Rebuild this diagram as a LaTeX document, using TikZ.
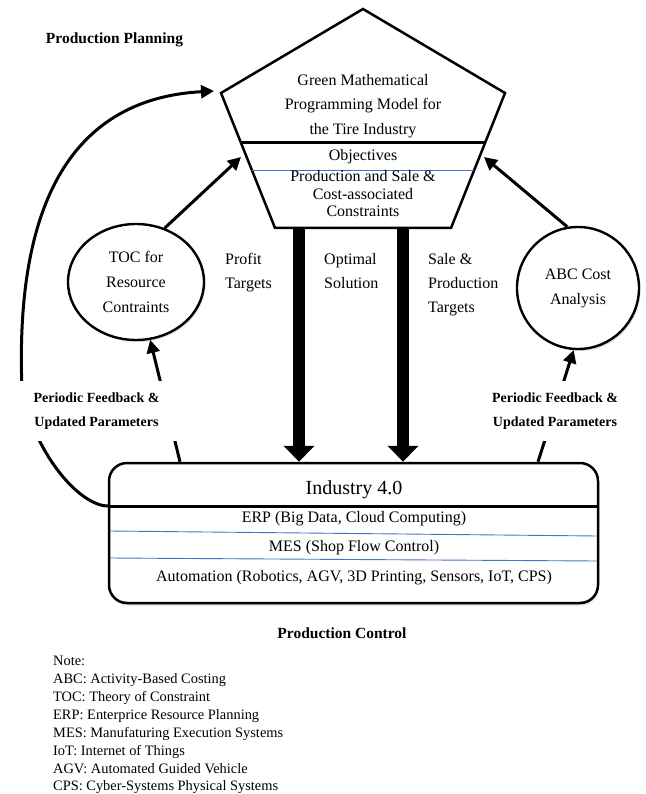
\documentclass[tikz,border=0pt]{standalone}
\usepackage{fontspec}
\setmainfont{Liberation Serif}
\usetikzlibrary{arrows.meta,shapes.geometric,shadows}
\definecolor{sepblue}{RGB}{68,114,196}
\tikzset{
  txt/.style={font=\fontsize{16}{24}\selectfont, inner sep=0pt},
  circ/.style={ellipse, draw, line width=2.4pt, fill=white,
    drop shadow={opacity=0.25, shadow xshift=1.5pt, shadow yshift=-2pt},
    align=center, font=\fontsize{16}{25}\selectfont, inner sep=0pt},
  arr/.style={line width=3pt, -{Triangle[length=13pt,width=13pt]}},
  bigarr/.style={line width=12pt, -{Triangle[length=16pt,width=30pt]}},
  heavy/.style={line width=3pt},
  thinblue/.style={draw=sepblue, line width=0.9pt},
  fblabel/.style={fill=white, align=center, font=\bfseries\fontsize{14}{24}\selectfont,
    inner sep=0pt, minimum width=162pt, minimum height=60pt},
  headlabel/.style={font=\bfseries\fontsize{15.5}{18}\selectfont, inner sep=0pt},
}
\begin{document}
\begin{tikzpicture}[x=1pt,y=-1pt]
\useasboundingbox (0,0) rectangle (645,794);

% ---------- pentagon (model) ----------
\coordinate (pA) at (363,9);
\coordinate (pL) at (221,93);
\coordinate (pR) at (505,93);
\coordinate (pBL) at (275,228);
\coordinate (pBR) at (451,228);
\draw[line width=2.5pt, fill=white] (pA) -- (pR) -- (pBR) -- (pBL) -- (pL) -- cycle;
\coordinate (psepL) at (241,143);
\coordinate (psepR) at (485,143);
\draw[heavy] (psepL) -- (psepR);
\coordinate (pblL) at (252,170);
\coordinate (pblR) at (474,170);
\draw[thinblue] (pblL) -- (pblR);

\node[txt, align=center, font=\fontsize{16}{24.5}\selectfont] (ptitle) at (363,106)
  {Green Mathematical\\Programming Model for\\the Tire Industry};
\node[txt] (pobj) at (363,157) {Objectives};
\node[txt, align=center, font=\fontsize{16}{17.5}\selectfont] (pcons) at (363,194)
  {Production and Sale \&\\Cost-associated\\Constraints};

% ---------- Industry 4.0 box ----------
\node[draw, rounded corners=18pt, line width=2.5pt, fill=white,
  minimum width=489pt, minimum height=140pt, inner sep=0pt,
  drop shadow={opacity=0.25, shadow xshift=1pt, shadow yshift=-2.5pt}] (box) at (353.5,533) {};
\coordinate (sepL) at (108,506);
\coordinate (sepR) at (598,506);
\draw[heavy] (sepL) -- (sepR);
\coordinate (bl1L) at (110,531);
\coordinate (bl1R) at (597,536);
\draw[thinblue] (bl1L) -- (bl1R);
\coordinate (bl2L) at (110,558);
\coordinate (bl2R) at (597,561);
\draw[thinblue] (bl2L) -- (bl2R);

\node[txt, font=\fontsize{20}{22}\selectfont] (ind) at (354,490) {Industry 4.0};
\node[txt] (erp) at (354,519) {ERP (Big Data, Cloud Computing)};
\node[txt] (mes) at (354,548) {MES (Shop Flow Control)};
\node[txt] (aut) at (354,578) {Automation (Robotics, AGV, 3D Printing, Sensors, IoT, CPS)};

% ---------- circles ----------
\node[circ, minimum width=136pt, minimum height=116pt] (toc) at (136,282)
  {TOC for\\Resource\\Contraints};
\node[circ, minimum width=122pt, minimum height=122pt] (abc) at (578,288)
  {ABC Cost\\Analysis};

% ---------- thick arrows ----------
\coordinate (sL) at (299,228);
\coordinate (sR) at (403,228);
\draw[bigarr] (sL) -- (sL |- box.north);
\draw[bigarr] (sR) -- (sR |- box.north);

% ---------- arrows into pentagon ----------
\coordinate (pin0) at (214,91);
\coordinate (pin1) at (241,157);
\coordinate (pin2) at (484,157);
\draw[arr] (toc.62) -- (pin1);
\draw[arr] (abc.100) -- (pin2);

% ---------- feedback arrows ----------
\coordinate (fbLx) at (180,0);
\coordinate (fbRx) at (538,0);
\draw[arr] (fbLx |- box.north) -- (toc);
\draw[arr] (fbRx |- box.north) -- (abc.266);

% ---------- big loop ----------
\draw[arr] (sepL) .. controls (80,506) and (35,455) .. (22,390)
  .. controls (16,240) and (50,100) .. (pin0);

% ---------- labels ----------
\node[fblabel] (fbl) at (96.5,411) {Periodic Feedback \&\\Updated Parameters};
\node[fblabel, minimum width=132pt] (fbr) at (555,411) {Periodic Feedback \&\\Updated Parameters};

\node[txt, align=left, anchor=west] (profit) at (225,273) {Profit\\Targets};
\node[txt, align=left, anchor=west] (optimal) at (324,271) {Optimal\\Solution};
\node[txt, align=left, anchor=west] (sale) at (428,285) {Sale \&\\Production\\Targets};

\node[headlabel] (pp) at (114.5,40) {Production Planning};
\node[headlabel] (pc) at (342,633) {Production Control};

\node[anchor=north west, align=left, inner sep=0pt, font=\fontsize{14.4}{17.9}\selectfont] (notes) at (53,656)
  {Note:\\
   ABC: Activity-Based Costing\\
   TOC: Theory of Constraint\\
   ERP: Enterprice Resource Planning\\
   MES: Manufaturing Execution Systems\\
   IoT: Internet of Things\\
   AGV: Automated Guided Vehicle\\
   CPS: Cyber-Systems Physical Systems};
\end{tikzpicture}
\end{document}
